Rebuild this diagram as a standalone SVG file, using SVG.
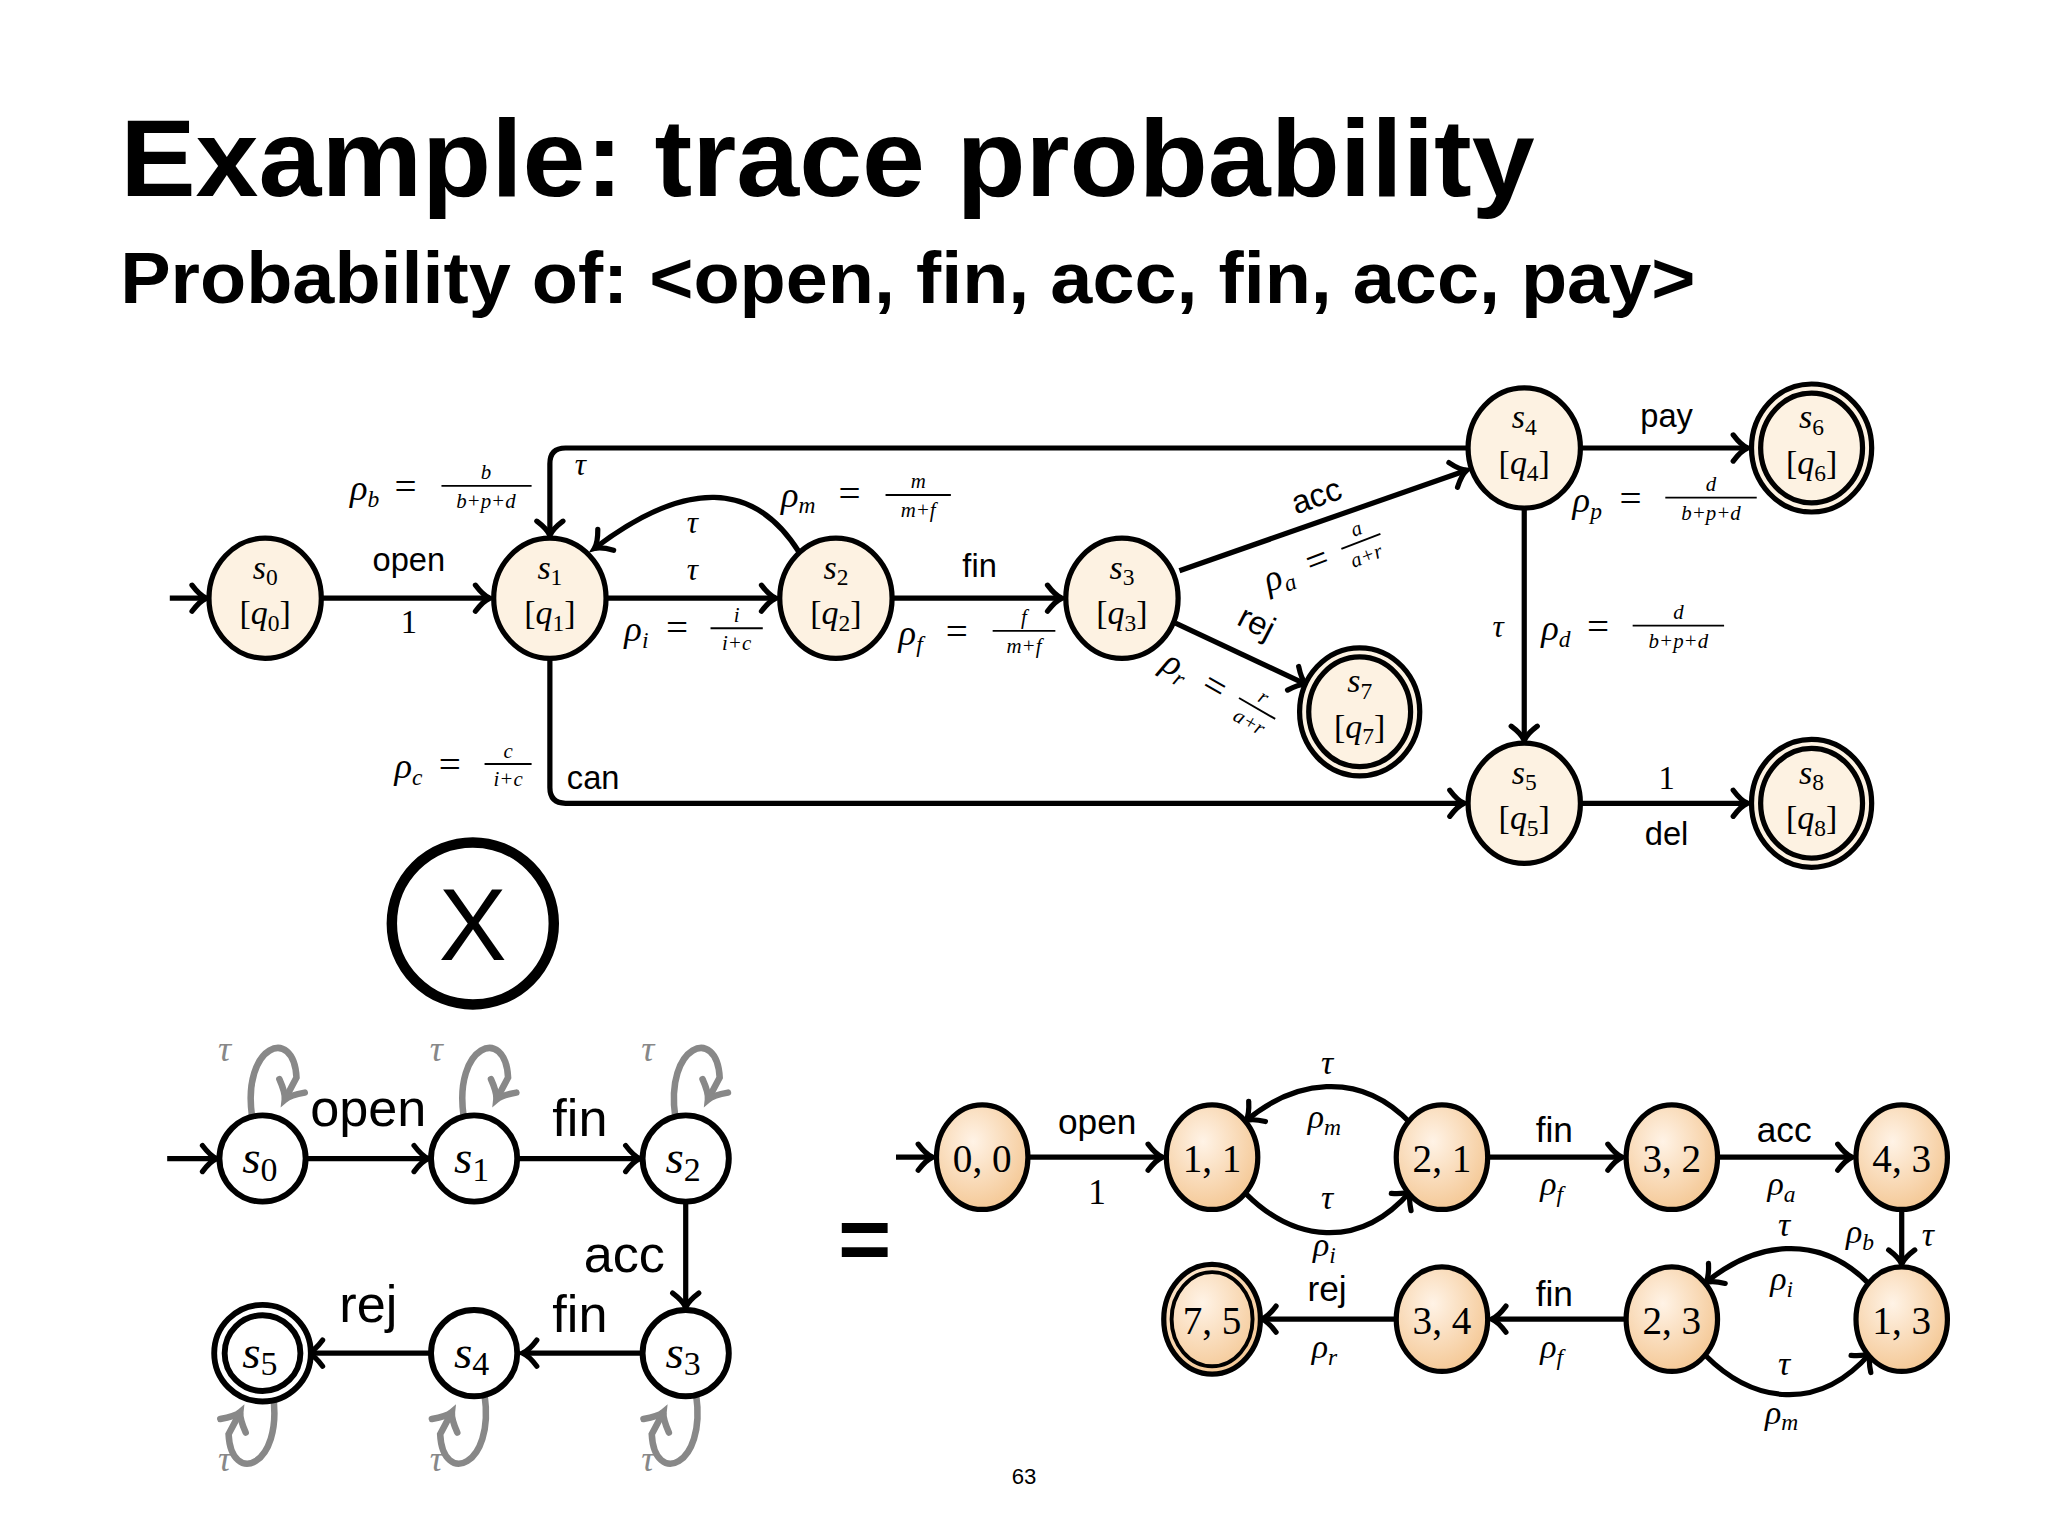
<svg xmlns="http://www.w3.org/2000/svg" width="2048" height="1536" viewBox="0 0 2048 1536">
<defs>
<style>
.n{fill:#fdf2e2;stroke:#000;stroke-width:4}
.w{fill:#fff;stroke:#000;stroke-width:4.5}
.p{fill:url(#og);stroke:#000;stroke-width:4}
.e{fill:none;stroke:#000;stroke-width:4}
.g{fill:none;stroke:#888;stroke-width:5}
.s{font-family:"Liberation Sans",Arial,sans-serif;fill:#000}
.m{font-family:"Liberation Serif","Times New Roman",serif;font-style:italic;fill:#000}
.r{font-family:"Liberation Serif","Times New Roman",serif;fill:#000}
.gt{font-family:"Liberation Serif",serif;font-style:italic;fill:#888;font-size:28px}
</style>
<radialGradient id="og" cx="0.4" cy="0.35" r="0.75"><stop offset="0" stop-color="#fff3e6"/><stop offset="1" stop-color="#f3c38c"/></radialGradient>
<marker id="a" markerUnits="userSpaceOnUse" viewBox="-14 -12 16 24" markerWidth="16" markerHeight="24" refX="0" refY="0" orient="auto" overflow="visible"><path d="M-11,-10 Q-5,-2 0,0 Q-5,2 -11,10" fill="none" stroke="#000" stroke-width="4" stroke-linecap="round"/></marker>
<marker id="ag" markerUnits="userSpaceOnUse" viewBox="-14 -12 16 24" markerWidth="16" markerHeight="24" refX="0" refY="0" orient="auto" overflow="visible"><path d="M-12,-11 Q-5,-2 0,0 Q-5,2 -12,11" fill="none" stroke="#888" stroke-width="5" stroke-linecap="round"/></marker>
</defs>
<rect width="2048" height="1536" fill="#fff"/>
<g transform="scale(1.30612)">
<g id="title">
<text class="s" x="92" y="150" font-size="84" font-weight="bold" textLength="1083" lengthAdjust="spacingAndGlyphs">Example: trace probability</text>
<text class="s" x="92" y="232" font-size="56" font-weight="bold" textLength="1206" lengthAdjust="spacingAndGlyphs">Probability of: &lt;open, fin, acc, fin, acc, pay&gt;</text>
</g>

<g id="top-connectors">
<line class="e" x1="130" y1="458" x2="158" y2="458" marker-end="url(#a)"/>
<line class="e" x1="247" y1="458" x2="375" y2="458" marker-end="url(#a)"/>
<line class="e" x1="465" y1="458" x2="594" y2="458" marker-end="url(#a)"/>
<path class="e" d="M612,423 Q560,340 455,420" marker-end="url(#a)"/>
<line class="e" x1="684" y1="458" x2="813" y2="458" marker-end="url(#a)"/>
<line class="e" x1="903" y1="437" x2="1123" y2="360" marker-end="url(#a)"/>
<line class="e" x1="900" y1="477" x2="1000" y2="524" marker-end="url(#a)"/>
<line class="e" x1="1211" y1="343" x2="1338" y2="343" marker-end="url(#a)"/>
<line class="e" x1="1167" y1="389" x2="1167" y2="567" marker-end="url(#a)"/>
<line class="e" x1="1211" y1="615" x2="1338" y2="615" marker-end="url(#a)"/>
<path class="e" d="M1124,343 L433,343 Q421,343 421,355 L421,410" marker-end="url(#a)"/>
<path class="e" d="M421,504 L421,603 Q421,615 433,615 L1121,615" marker-end="url(#a)"/>
</g>

<g id="top-labels">
<text class="s" x="313" y="437" font-size="25" text-anchor="middle">open</text>
<text class="r" x="313" y="485" font-size="25" text-anchor="middle">1</text>
<text class="m" x="530" y="444" font-size="24" text-anchor="middle">τ</text>
<text class="m" x="530" y="408" font-size="24" text-anchor="middle">τ</text>
<text class="m" x="440" y="364" font-size="24">τ</text>
<text class="s" x="750" y="442" font-size="25" text-anchor="middle">fin</text>
<text class="s" x="1276" y="327" font-size="25" text-anchor="middle">pay</text>
<text class="m" x="1147" y="488" font-size="24" text-anchor="middle">τ</text>
<text class="r" x="1276" y="604" font-size="25" text-anchor="middle">1</text>
<text class="s" x="1276" y="647" font-size="25" text-anchor="middle">del</text>
<text class="s" x="434" y="604" font-size="25">can</text>
<text class="s" x="1008" y="388" font-size="25" text-anchor="middle" transform="rotate(-19 1008 380)">acc</text>
<text class="s" x="962" y="485" font-size="25" text-anchor="middle" transform="rotate(27 962 477)">rej</text>
<!-- rho_b -->
<text class="m" x="268" y="383" font-size="28">ρ<tspan font-size="18" dy="5">b</tspan><tspan class="r" font-style="normal" font-size="30" dy="-5" x="302">=</tspan></text>
<text class="m" x="372" y="367" font-size="16" text-anchor="middle">b</text>
<line x1="338" y1="372" x2="407" y2="372" stroke="#000" stroke-width="1.5"/>
<text class="m" x="372" y="389" font-size="16" text-anchor="middle">b+p+d</text>
<!-- rho_m -->
<text class="m" x="598" y="388" font-size="28">ρ<tspan font-size="18" dy="5">m</tspan><tspan class="r" font-style="normal" font-size="30" dy="-5" x="642">=</tspan></text>
<text class="m" x="703" y="374" font-size="16" text-anchor="middle">m</text>
<line x1="678" y1="379" x2="728" y2="379" stroke="#000" stroke-width="1.5"/>
<text class="m" x="703" y="396" font-size="16" text-anchor="middle">m+f</text>
<!-- rho_i -->
<text class="m" x="478" y="491" font-size="28">ρ<tspan font-size="18" dy="5">i</tspan><tspan class="r" font-style="normal" font-size="30" dy="-5" x="510">=</tspan></text>
<text class="m" x="564" y="476" font-size="16" text-anchor="middle">i</text>
<line x1="544" y1="481" x2="584" y2="481" stroke="#000" stroke-width="1.5"/>
<text class="m" x="564" y="498" font-size="16" text-anchor="middle">i+c</text>
<!-- rho_f -->
<text class="m" x="688" y="494" font-size="28">ρ<tspan font-size="18" dy="5">f</tspan><tspan class="r" font-style="normal" font-size="30" dy="-5" x="724">=</tspan></text>
<text class="m" x="784" y="478" font-size="16" text-anchor="middle">f</text>
<line x1="760" y1="483" x2="808" y2="483" stroke="#000" stroke-width="1.5"/>
<text class="m" x="784" y="500" font-size="16" text-anchor="middle">m+f</text>
<!-- rho_c -->
<text class="m" x="302" y="596" font-size="28">ρ<tspan font-size="18" dy="5">c</tspan><tspan class="r" font-style="normal" font-size="30" dy="-5" x="336">=</tspan></text>
<text class="m" x="389" y="580" font-size="16" text-anchor="middle">c</text>
<line x1="371" y1="585" x2="407" y2="585" stroke="#000" stroke-width="1.5"/>
<text class="m" x="389" y="602" font-size="16" text-anchor="middle">i+c</text>
<!-- rho_p -->
<text class="m" x="1204" y="392" font-size="28">ρ<tspan font-size="18" dy="5">p</tspan><tspan class="r" font-style="normal" font-size="30" dy="-5" x="1240">=</tspan></text>
<text class="m" x="1310" y="376" font-size="16" text-anchor="middle">d</text>
<line x1="1275" y1="381" x2="1345" y2="381" stroke="#000" stroke-width="1.5"/>
<text class="m" x="1310" y="398" font-size="16" text-anchor="middle">b+p+d</text>
<!-- rho_d -->
<text class="m" x="1180" y="490" font-size="28">ρ<tspan font-size="18" dy="5">d</tspan><tspan class="r" font-style="normal" font-size="30" dy="-5" x="1215">=</tspan></text>
<text class="m" x="1285" y="474" font-size="16" text-anchor="middle">d</text>
<line x1="1250" y1="479" x2="1320" y2="479" stroke="#000" stroke-width="1.5"/>
<text class="m" x="1285" y="496" font-size="16" text-anchor="middle">b+p+d</text>
<!-- rho_a rotated -->
<g transform="translate(1015,428) rotate(-21)">
<text class="m" x="-50" y="8" font-size="28">ρ<tspan font-size="18" dy="5">a</tspan><tspan class="r" font-style="normal" font-size="30" dy="-5" x="-15">=</tspan></text>
<text class="m" x="30" y="-8" font-size="16" text-anchor="middle">a</text>
<line x1="14" y1="-3" x2="46" y2="-3" stroke="#000" stroke-width="1.5"/>
<text class="m" x="30" y="14" font-size="16" text-anchor="middle">a+r</text>
</g>
<!-- rho_r rotated -->
<g transform="translate(935,530) rotate(30)">
<text class="m" x="-50" y="8" font-size="28">ρ<tspan font-size="18" dy="5">r</tspan><tspan class="r" font-style="normal" font-size="30" dy="-5" x="-15">=</tspan></text>
<text class="m" x="30" y="-8" font-size="16" text-anchor="middle">r</text>
<line x1="14" y1="-3" x2="46" y2="-3" stroke="#000" stroke-width="1.5"/>
<text class="m" x="30" y="14" font-size="16" text-anchor="middle">a+r</text>
</g>
</g>

<g id="top-nodes">
<g id="s0"><ellipse class="n" cx="203" cy="458" rx="43" ry="46"/><text class="m" x="203" y="443" font-size="26" text-anchor="middle">s<tspan class="r" font-style="normal" font-size="18" dy="5">0</tspan></text><text class="r" x="203" y="478" font-size="26" text-anchor="middle">[<tspan class="m">q</tspan><tspan font-size="18" dy="5">0</tspan><tspan dy="-5">]</tspan></text></g>
<g id="s1"><ellipse class="n" cx="421" cy="458" rx="43" ry="46"/><text class="m" x="421" y="443" font-size="26" text-anchor="middle">s<tspan class="r" font-style="normal" font-size="18" dy="5">1</tspan></text><text class="r" x="421" y="478" font-size="26" text-anchor="middle">[<tspan class="m">q</tspan><tspan font-size="18" dy="5">1</tspan><tspan dy="-5">]</tspan></text></g>
<g id="s2"><ellipse class="n" cx="640" cy="458" rx="43" ry="46"/><text class="m" x="640" y="443" font-size="26" text-anchor="middle">s<tspan class="r" font-style="normal" font-size="18" dy="5">2</tspan></text><text class="r" x="640" y="478" font-size="26" text-anchor="middle">[<tspan class="m">q</tspan><tspan font-size="18" dy="5">2</tspan><tspan dy="-5">]</tspan></text></g>
<g id="s3"><ellipse class="n" cx="859" cy="458" rx="43" ry="46"/><text class="m" x="859" y="443" font-size="26" text-anchor="middle">s<tspan class="r" font-style="normal" font-size="18" dy="5">3</tspan></text><text class="r" x="859" y="478" font-size="26" text-anchor="middle">[<tspan class="m">q</tspan><tspan font-size="18" dy="5">3</tspan><tspan dy="-5">]</tspan></text></g>
<g id="s4"><ellipse class="n" cx="1167" cy="343" rx="43" ry="46"/><text class="m" x="1167" y="328" font-size="26" text-anchor="middle">s<tspan class="r" font-style="normal" font-size="18" dy="5">4</tspan></text><text class="r" x="1167" y="363" font-size="26" text-anchor="middle">[<tspan class="m">q</tspan><tspan font-size="18" dy="5">4</tspan><tspan dy="-5">]</tspan></text></g>
<g id="s5"><ellipse class="n" cx="1167" cy="615" rx="43" ry="46"/><text class="m" x="1167" y="600" font-size="26" text-anchor="middle">s<tspan class="r" font-style="normal" font-size="18" dy="5">5</tspan></text><text class="r" x="1167" y="635" font-size="26" text-anchor="middle">[<tspan class="m">q</tspan><tspan font-size="18" dy="5">5</tspan><tspan dy="-5">]</tspan></text></g>
<g id="s6"><ellipse class="n" cx="1387" cy="343" rx="46" ry="49"/><ellipse class="n" cx="1387" cy="343" rx="39" ry="42" fill="none"/><text class="m" x="1387" y="328" font-size="26" text-anchor="middle">s<tspan class="r" font-style="normal" font-size="18" dy="5">6</tspan></text><text class="r" x="1387" y="363" font-size="26" text-anchor="middle">[<tspan class="m">q</tspan><tspan font-size="18" dy="5">6</tspan><tspan dy="-5">]</tspan></text></g>
<g id="s7"><ellipse class="n" cx="1041" cy="545" rx="46" ry="49"/><ellipse class="n" cx="1041" cy="545" rx="39" ry="42" fill="none"/><text class="m" x="1041" y="530" font-size="26" text-anchor="middle">s<tspan class="r" font-style="normal" font-size="18" dy="5">7</tspan></text><text class="r" x="1041" y="565" font-size="26" text-anchor="middle">[<tspan class="m">q</tspan><tspan font-size="18" dy="5">7</tspan><tspan dy="-5">]</tspan></text></g>
<g id="s8"><ellipse class="n" cx="1387" cy="615" rx="46" ry="49"/><ellipse class="n" cx="1387" cy="615" rx="39" ry="42" fill="none"/><text class="m" x="1387" y="600" font-size="26" text-anchor="middle">s<tspan class="r" font-style="normal" font-size="18" dy="5">8</tspan></text><text class="r" x="1387" y="635" font-size="26" text-anchor="middle">[<tspan class="m">q</tspan><tspan font-size="18" dy="5">8</tspan><tspan dy="-5">]</tspan></text></g>
</g>

<g id="times">
<circle cx="362" cy="707" r="62" fill="#fff" stroke="#000" stroke-width="8"/>
<text class="s" x="362" y="735" font-size="78" text-anchor="middle">X</text>
</g>

<g id="bl-connectors">
<line class="e" x1="128" y1="887" x2="166" y2="887" stroke-width="5" marker-end="url(#a)"/>
<line class="e" x1="235" y1="887" x2="328" y2="887" stroke-width="5" marker-end="url(#a)"/>
<line class="e" x1="397" y1="887" x2="490" y2="887" stroke-width="5" marker-end="url(#a)"/>
<line class="e" x1="525" y1="921" x2="525" y2="1001" stroke-width="5" marker-end="url(#a)"/>
<line class="e" x1="491" y1="1036" x2="400" y2="1036" stroke-width="5" marker-end="url(#a)"/>
<line class="e" x1="329" y1="1036" x2="236" y2="1036" stroke-width="5" marker-end="url(#a)"/>
<path class="g" d="M193,855 C185,800 225,785 227,825 L218,842" marker-end="url(#ag)"/>
<path class="g" d="M355,855 C347,800 387,785 389,825 L380,842" marker-end="url(#ag)"/>
<path class="g" d="M517,855 C509,800 549,785 551,825 L542,842" marker-end="url(#ag)"/>
<path class="g" d="M209,1068 C217,1123 177,1138 175,1098 L184,1081" marker-end="url(#ag)"/>
<path class="g" d="M371,1068 C379,1123 339,1138 337,1098 L346,1081" marker-end="url(#ag)"/>
<path class="g" d="M533,1068 C541,1123 501,1138 499,1098 L508,1081" marker-end="url(#ag)"/>
<text class="gt" x="172" y="812" text-anchor="middle">τ</text>
<text class="gt" x="334" y="812" text-anchor="middle">τ</text>
<text class="gt" x="496" y="812" text-anchor="middle">τ</text>
<text class="gt" x="172" y="1126" text-anchor="middle">τ</text>
<text class="gt" x="334" y="1126" text-anchor="middle">τ</text>
<text class="gt" x="496" y="1126" text-anchor="middle">τ</text>
<text class="s" x="282" y="862" font-size="40" text-anchor="middle">open</text>
<text class="s" x="444" y="870" font-size="40" text-anchor="middle">fin</text>
<text class="s" x="478" y="974" font-size="40" text-anchor="middle">acc</text>
<text class="s" x="444" y="1020" font-size="40" text-anchor="middle">fin</text>
<text class="s" x="282" y="1012" font-size="40" text-anchor="middle">rej</text>
</g>

<g id="bl-nodes">
<g id="b0"><circle class="w" cx="201" cy="887" r="33"/><text class="m" x="199" y="898" font-size="36" text-anchor="middle">s<tspan class="r" font-style="normal" font-size="26" dy="6">0</tspan></text></g>
<g id="b1"><circle class="w" cx="363" cy="887" r="33"/><text class="m" x="361" y="898" font-size="36" text-anchor="middle">s<tspan class="r" font-style="normal" font-size="26" dy="6">1</tspan></text></g>
<g id="b2"><circle class="w" cx="525" cy="887" r="33"/><text class="m" x="523" y="898" font-size="36" text-anchor="middle">s<tspan class="r" font-style="normal" font-size="26" dy="6">2</tspan></text></g>
<g id="b3"><circle class="w" cx="525" cy="1036" r="33"/><text class="m" x="523" y="1047" font-size="36" text-anchor="middle">s<tspan class="r" font-style="normal" font-size="26" dy="6">3</tspan></text></g>
<g id="b4"><circle class="w" cx="363" cy="1036" r="33"/><text class="m" x="361" y="1047" font-size="36" text-anchor="middle">s<tspan class="r" font-style="normal" font-size="26" dy="6">4</tspan></text></g>
<g id="b5"><circle class="w" cx="201" cy="1036" r="37"/><circle class="w" cx="201" cy="1036" r="29"/><text class="m" x="199" y="1047" font-size="36" text-anchor="middle">s<tspan class="r" font-style="normal" font-size="26" dy="6">5</tspan></text></g>
</g>

<text id="eq" class="s" x="662" y="972" font-size="70" font-weight="bold" text-anchor="middle">=</text>

<g id="br-connectors">
<line class="e" x1="686" y1="886" x2="714" y2="886" marker-end="url(#a)"/>
<line class="e" x1="787" y1="886" x2="890" y2="886" marker-end="url(#a)"/>
<path class="e" d="M1080,860 C1040,818 990,828 954,858" marker-end="url(#a)"/>
<path class="e" d="M954,914 C990,950 1040,958 1080,912" marker-end="url(#a)"/>
<line class="e" x1="1139" y1="886" x2="1242" y2="886" marker-end="url(#a)"/>
<line class="e" x1="1315" y1="886" x2="1418" y2="886" marker-end="url(#a)"/>
<line class="e" x1="1456" y1="926" x2="1456" y2="968" marker-end="url(#a)"/>
<path class="e" d="M1432,984 C1392,942 1342,952 1306,982" marker-end="url(#a)"/>
<path class="e" d="M1306,1038 C1342,1074 1392,1082 1432,1036" marker-end="url(#a)"/>
<line class="e" x1="1245" y1="1010" x2="1142" y2="1010" marker-end="url(#a)"/>
<line class="e" x1="1069" y1="1010" x2="966" y2="1010" marker-end="url(#a)"/>
<text class="s" x="840" y="868" font-size="27" text-anchor="middle">open</text>
<text class="r" x="840" y="922" font-size="27" text-anchor="middle">1</text>
<text class="m" x="1016" y="822" font-size="26" text-anchor="middle">τ</text>
<text class="m" x="1014" y="864" font-size="26" text-anchor="middle">ρ<tspan font-size="18" dy="5">m</tspan></text>
<text class="m" x="1016" y="926" font-size="26" text-anchor="middle">τ</text>
<text class="m" x="1014" y="962" font-size="26" text-anchor="middle">ρ<tspan font-size="18" dy="5">i</tspan></text>
<text class="s" x="1190" y="874" font-size="27" text-anchor="middle">fin</text>
<text class="m" x="1188" y="915" font-size="26" text-anchor="middle">ρ<tspan font-size="18" dy="5">f</tspan></text>
<text class="s" x="1366" y="874" font-size="27" text-anchor="middle">acc</text>
<text class="m" x="1364" y="915" font-size="26" text-anchor="middle">ρ<tspan font-size="18" dy="5">a</tspan></text>
<text class="m" x="1424" y="952" font-size="26" text-anchor="middle">ρ<tspan font-size="18" dy="5">b</tspan></text>
<text class="m" x="1476" y="954" font-size="26" text-anchor="middle">τ</text>
<text class="m" x="1366" y="946" font-size="26" text-anchor="middle">τ</text>
<text class="m" x="1364" y="988" font-size="26" text-anchor="middle">ρ<tspan font-size="18" dy="5">i</tspan></text>
<text class="m" x="1366" y="1053" font-size="26" text-anchor="middle">τ</text>
<text class="m" x="1364" y="1090" font-size="26" text-anchor="middle">ρ<tspan font-size="18" dy="5">m</tspan></text>
<text class="s" x="1190" y="1000" font-size="27" text-anchor="middle">fin</text>
<text class="m" x="1188" y="1040" font-size="26" text-anchor="middle">ρ<tspan font-size="18" dy="5">f</tspan></text>
<text class="s" x="1016" y="996" font-size="27" text-anchor="middle">rej</text>
<text class="m" x="1014" y="1040" font-size="26" text-anchor="middle">ρ<tspan font-size="18" dy="5">r</tspan></text>
</g>

<g id="br-nodes">
<g id="p00"><ellipse class="p" cx="752" cy="886" rx="35" ry="40"/><text class="r" x="752" y="897" font-size="30" text-anchor="middle">0, 0</text></g>
<g id="p11"><ellipse class="p" cx="928" cy="886" rx="35" ry="40"/><text class="r" x="928" y="897" font-size="30" text-anchor="middle">1, 1</text></g>
<g id="p21"><ellipse class="p" cx="1104" cy="886" rx="35" ry="40"/><text class="r" x="1104" y="897" font-size="30" text-anchor="middle">2, 1</text></g>
<g id="p32"><ellipse class="p" cx="1280" cy="886" rx="35" ry="40"/><text class="r" x="1280" y="897" font-size="30" text-anchor="middle">3, 2</text></g>
<g id="p43"><ellipse class="p" cx="1456" cy="886" rx="35" ry="40"/><text class="r" x="1456" y="897" font-size="30" text-anchor="middle">4, 3</text></g>
<g id="p13"><ellipse class="p" cx="1456" cy="1010" rx="35" ry="40"/><text class="r" x="1456" y="1021" font-size="30" text-anchor="middle">1, 3</text></g>
<g id="p23"><ellipse class="p" cx="1280" cy="1010" rx="35" ry="40"/><text class="r" x="1280" y="1021" font-size="30" text-anchor="middle">2, 3</text></g>
<g id="p34"><ellipse class="p" cx="1104" cy="1010" rx="35" ry="40"/><text class="r" x="1104" y="1021" font-size="30" text-anchor="middle">3, 4</text></g>
<g id="p75"><ellipse class="p" cx="928" cy="1010" rx="37" ry="42"/><ellipse cx="928" cy="1010" rx="31" ry="36" fill="none" stroke="#000" stroke-width="3"/><text class="r" x="928" y="1021" font-size="30" text-anchor="middle">7, 5</text></g>
</g>

<text class="s" x="784" y="1136" font-size="17" text-anchor="middle">63</text>
</g>
</svg>
